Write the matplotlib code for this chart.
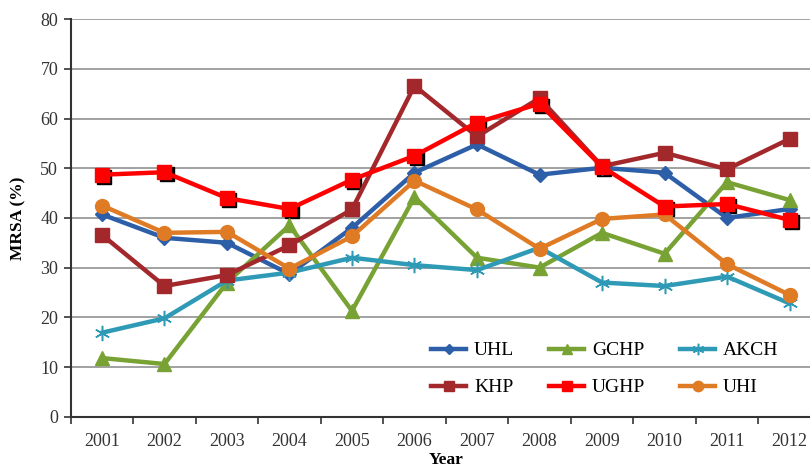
import numpy as np
import matplotlib
matplotlib.use("Agg")
import matplotlib.pyplot as plt
from matplotlib.ticker import MultipleLocator, FixedLocator
from matplotlib.transforms import offset_copy

# Data
years = ["2001", "2002", "2003", "2004", "2005", "2006",
         "2007", "2008", "2009", "2010", "2011", "2012"]
uhl = [40.7, 36.0, 35.0, 28.7, 38.0, 49.1, 54.8, 48.7, 50.1, 49.1, 40.0, 41.8]
gchp = [11.8, 10.6, 27.0, 38.5, 21.3, 44.2, 32.0, 30.0, 37.0, 32.8, 47.2, 43.6]
akch = [16.9, 19.8, 27.4, 29.0, 32.0, 30.5, 29.5, 34.0, 27.0, 26.3, 28.2, 22.8]
khp = [36.6, 26.3, 28.5, 34.5, 41.7, 66.6, 56.4, 64.1, 50.4, 53.1, 49.8, 55.9]
ughp = [48.7, 49.2, 44.0, 41.8, 47.7, 52.5, 59.2, 63.0, 50.3, 42.3, 42.8, 39.6]
uhi = [42.5, 37.0, 37.2, 29.8, 36.3, 47.5, 41.7, 33.8, 39.8, 40.7, 30.7, 24.5]

x = np.arange(len(years))

fig = plt.figure(figsize=(8.1, 4.71), dpi=100)
# the reference is cropped on the right, so the axes runs a little past the edge
ax = fig.add_axes([0.0873, 0.1153, 0.926, 0.844])

serif = ["Liberation Serif", "DejaVu Serif"]
lw = 3.2

# black drop shadow behind the UGHP squares
shadow = offset_copy(ax.transData, fig=fig, x=1.5, y=-1.5, units="points")
ax.plot(x, ughp, linestyle="none", marker="s", markersize=10, color="black",
        transform=shadow, zorder=3)

h_uhl, = ax.plot(x, uhl, color="#2d5ea8", lw=lw, marker="D", markersize=7, label="UHL", zorder=4)
h_gchp, = ax.plot(x, gchp, color="#78a334", lw=lw, marker="^", markersize=10, label="GCHP", zorder=4)
h_akch, = ax.plot(x, akch, color="#2e9ab6", lw=lw, marker=(6, 2, 0), markersize=11,
                  markeredgewidth=1.1, label="AKCH", zorder=4)
h_khp, = ax.plot(x, khp, color="#a3282c", lw=lw, marker="s", markersize=10, label="KHP", zorder=4)
h_ughp, = ax.plot(x, ughp, color="#ff0000", lw=lw, marker="s", markersize=10, label="UGHP", zorder=5)
h_uhi, = ax.plot(x, uhi, color="#e07b25", lw=lw, marker="o", markersize=10, label="UHI", zorder=4)

ax.set_xlim(-0.5, len(years) - 0.5)
ax.set_ylim(0, 80)
ax.yaxis.set_major_locator(MultipleLocator(10))
ax.set_xticks(x)
ax.set_xticklabels(years)
ax.xaxis.set_minor_locator(FixedLocator(np.arange(-0.5, len(years), 1.0)))
ax.tick_params(axis="x", which="major", length=0, pad=12)
ax.tick_params(axis="x", which="minor", length=5, width=1.2, color="#333333")
ax.tick_params(axis="y", length=5, width=1.2, color="#333333", pad=4)
for lab in ax.get_xticklabels() + ax.get_yticklabels():
    lab.set_family(serif)
    lab.set_fontsize(13)
    lab.set_color("#333333")

ax.grid(axis="y", color="#9a9a9a", lw=1.3)
ax.set_axisbelow(True)
for s in ["top", "right"]:
    ax.spines[s].set_visible(False)
for s in ["left", "bottom"]:
    ax.spines[s].set_color("#333333")
    ax.spines[s].set_linewidth(1.5)

ax.set_ylabel("MRSA (%)", family=serif, fontweight="bold", fontsize=12.5, labelpad=10)
ax.set_xlabel("Year", family=serif, fontweight="bold", fontsize=12.5, labelpad=1)

# legend fills column-wise, so order the handles to get rows UHL/GCHP/AKCH and KHP/UGHP/UHI
handles = [h_uhl, h_khp, h_gchp, h_ughp, h_akch, h_uhi]
ax.legend(handles=handles, labels=[h.get_label() for h in handles], ncol=3,
          loc="lower right", bbox_to_anchor=(0.967, 0.007), frameon=False,
          prop={"family": serif, "size": 14}, handlelength=1.8, markerscale=0.75,
          columnspacing=1.8, labelspacing=1.0, handletextpad=0.4)

fig.savefig("out.png", dpi=100)
